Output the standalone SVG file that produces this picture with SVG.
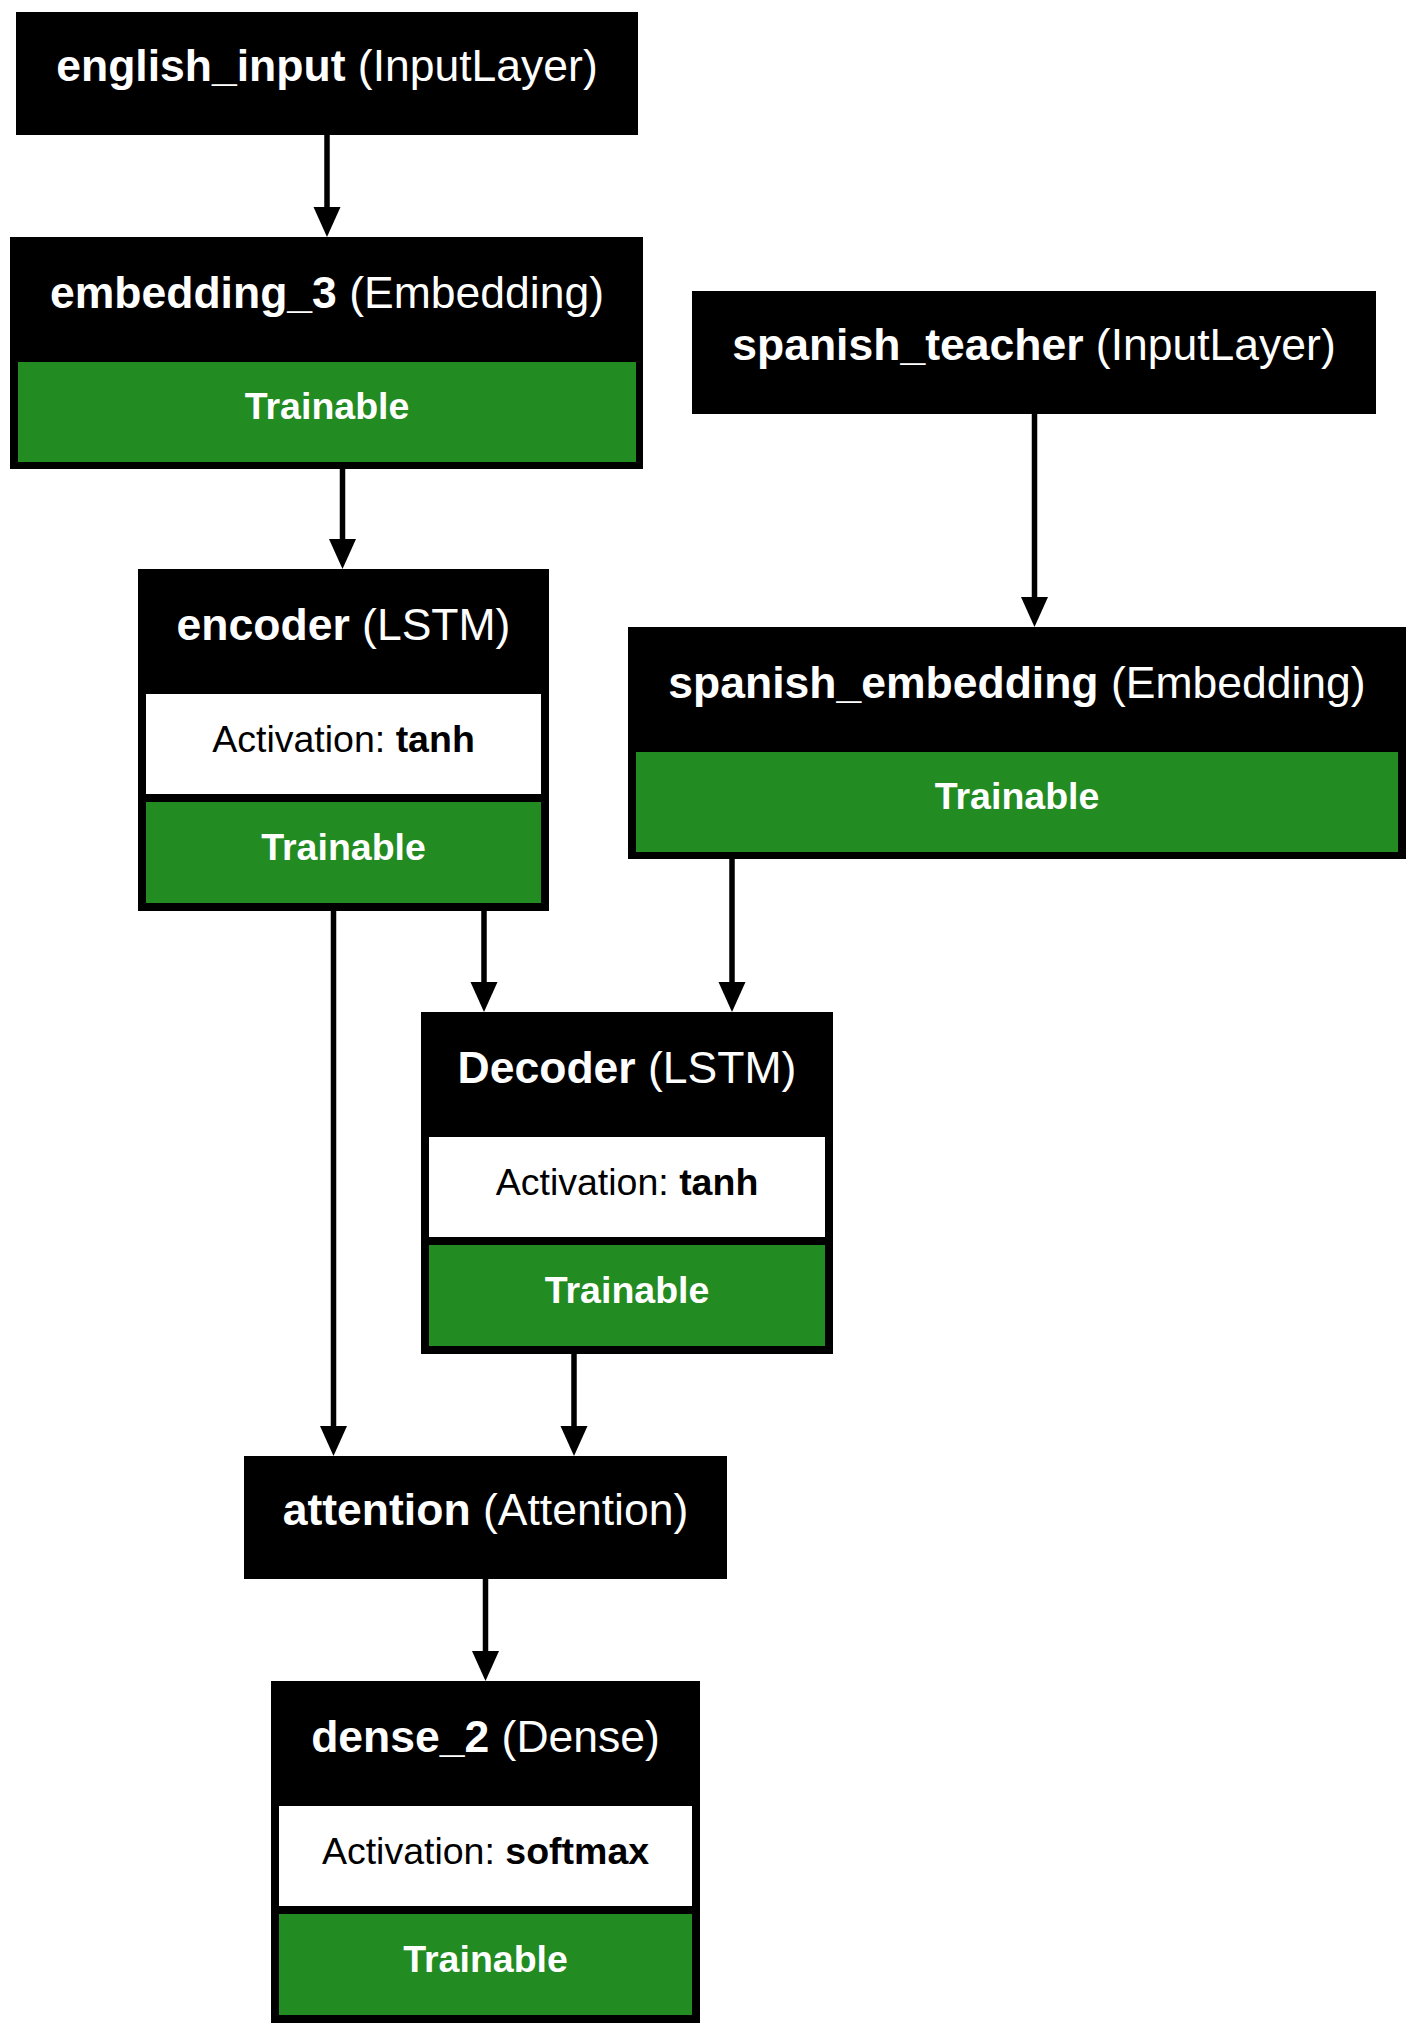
<svg xmlns="http://www.w3.org/2000/svg" width="1414" height="2031" viewBox="0 0 1414 2031">
<style>
.frame{fill:#000000}
.white{fill:#ffffff}
.green{fill:#228b22}
.hd{font-family:"Liberation Sans",Arial,sans-serif;font-size:44.5px;fill:#ffffff;text-anchor:middle}
.row{font-family:"Liberation Sans",Arial,sans-serif;font-size:37.5px;text-anchor:middle}
.b{font-weight:bold}
.edge{stroke:#000000;stroke-width:5.5;fill:none}
.head{fill:#000000;stroke:none}
</style>
<rect x="0" y="0" width="1414" height="2031" fill="#ffffff"/>
<g id="connectors">
<line class="edge" x1="327" y1="135" x2="327" y2="210"/>
<polygon class="head" points="313.5,207 340.5,207 327,237"/>
<line class="edge" x1="342.5" y1="469" x2="342.5" y2="542"/>
<polygon class="head" points="329,539 356,539 342.5,569"/>
<line class="edge" x1="1034.5" y1="414" x2="1034.5" y2="600"/>
<polygon class="head" points="1021,597 1048,597 1034.5,627"/>
<line class="edge" x1="484" y1="911" x2="484" y2="985"/>
<polygon class="head" points="470.5,982 497.5,982 484,1012"/>
<line class="edge" x1="732" y1="859" x2="732" y2="985"/>
<polygon class="head" points="718.5,982 745.5,982 732,1012"/>
<line class="edge" x1="333.5" y1="911" x2="333.5" y2="1429"/>
<polygon class="head" points="320,1426 347,1426 333.5,1456"/>
<line class="edge" x1="574" y1="1354" x2="574" y2="1429"/>
<polygon class="head" points="560.5,1426 587.5,1426 574,1456"/>
<line class="edge" x1="485.5" y1="1579" x2="485.5" y2="1654"/>
<polygon class="head" points="472,1651 499,1651 485.5,1681"/>
</g>
<g id="english_input">
<rect class="frame" x="16" y="12" width="622" height="123"/>
<text class="hd" x="327" y="81"><tspan class="b">english_input</tspan> (InputLayer)</text>
</g>
<g id="embedding_3">
<rect class="frame" x="10" y="237" width="633" height="232"/>
<rect class="green" x="18" y="362" width="618" height="100"/>
<text class="hd" x="327" y="308"><tspan class="b">embedding_3</tspan> (Embedding)</text>
<text class="row b" x="327" y="419" fill="#ffffff">Trainable</text>
</g>
<g id="spanish_teacher">
<rect class="frame" x="692" y="291" width="684" height="123"/>
<text class="hd" x="1034" y="360"><tspan class="b">spanish_teacher</tspan> (InputLayer)</text>
</g>
<g id="spanish_embedding">
<rect class="frame" x="628" y="627" width="778" height="232"/>
<rect class="green" x="636" y="752" width="762" height="100"/>
<text class="hd" x="1017" y="698"><tspan class="b">spanish_embedding</tspan> (Embedding)</text>
<text class="row b" x="1017" y="809" fill="#ffffff">Trainable</text>
</g>
<g id="encoder">
<rect class="frame" x="138" y="569" width="411" height="342"/>
<rect class="white" x="146" y="694" width="395" height="100"/>
<rect class="green" x="146" y="802" width="395" height="101"/>
<text class="hd" x="343.5" y="640"><tspan class="b">encoder</tspan> (LSTM)</text>
<text class="row" x="343.5" y="752" fill="#000000">Activation: <tspan class="b">tanh</tspan></text>
<text class="row b" x="343.5" y="860" fill="#ffffff">Trainable</text>
</g>
<g id="Decoder">
<rect class="frame" x="421" y="1012" width="412" height="342"/>
<rect class="white" x="429" y="1137" width="396" height="100"/>
<rect class="green" x="429" y="1245" width="396" height="101"/>
<text class="hd" x="627" y="1083"><tspan class="b">Decoder</tspan> (LSTM)</text>
<text class="row" x="627" y="1195" fill="#000000">Activation: <tspan class="b">tanh</tspan></text>
<text class="row b" x="627" y="1303" fill="#ffffff">Trainable</text>
</g>
<g id="attention">
<rect class="frame" x="244" y="1456" width="483" height="123"/>
<text class="hd" x="485.5" y="1525"><tspan class="b">attention</tspan> (Attention)</text>
</g>
<g id="dense_2">
<rect class="frame" x="271" y="1681" width="429" height="342"/>
<rect class="white" x="279" y="1806" width="413" height="100"/>
<rect class="green" x="279" y="1914" width="413" height="101"/>
<text class="hd" x="485.5" y="1752"><tspan class="b">dense_2</tspan> (Dense)</text>
<text class="row" x="485.5" y="1864" fill="#000000">Activation: <tspan class="b">softmax</tspan></text>
<text class="row b" x="485.5" y="1972" fill="#ffffff">Trainable</text>
</g>
</svg>
